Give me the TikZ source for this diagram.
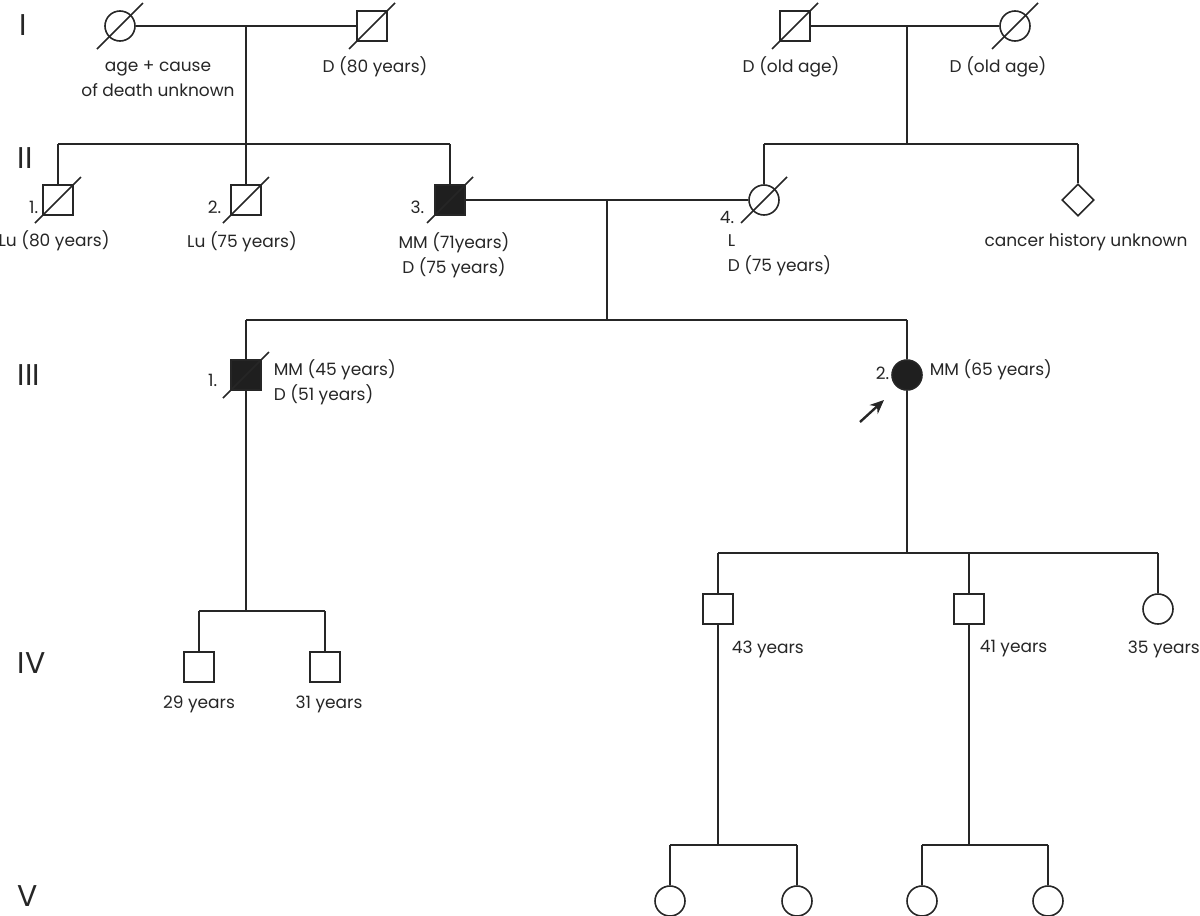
\documentclass[tikz,border=0pt]{standalone}
\usepackage{fontspec}
\setmainfont{Poppins}
\usepackage{tikz}
\usetikzlibrary{positioning,shapes.geometric,arrows.meta}
\tikzset{
  male box/.style={
    draw,
    rectangle,
    minimum size=15pt,
    inner sep=0pt,
  },
  female disc/.style={
    draw,
    circle,
    minimum size=15pt,
    inner sep=0pt,
  },
  sex unknown/.style={
    draw,
    diamond,
    minimum size=16pt,
    inner sep=0pt,
  },
  affected/.style={
    fill=black!88,
  },
  annotation/.style={
    font=\fontsize{8.5}{12.5}\selectfont,
    inner sep=0pt,
  },
  generation/.style={
    font=\fontsize{15}{18}\selectfont,
    inner sep=0pt,
    anchor=west,
  },
  proband arrow/.style={
    -{Stealth[length=7pt,width=6pt]},
    line width=1.2pt,
  }
}
\newcommand{\deceased}[1]{\draw ([shift={(-23,23)}]#1.center) -- ([shift={(23,-23)}]#1.center);}

\begin{document}
\begin{tikzpicture}[x=0.5pt, y=-0.5pt, line width=0.8pt, color=black!85]
    \useasboundingbox (0,0) rectangle (1200,916);

    \node [generation] (g1) at (19,25) {I};
    \node [generation] (g2) at (17,158) {II};
    \node [generation] (g3) at (17,375) {III};
    \node [generation] (g4) at (17,663) {IV};
    \node [generation] (g5) at (17,896) {V};

    % generation I
    \node [female disc] (i1) at (120,26) {};
    \node [male box] (i2) at (372,26) {};
    \node [male box] (i3) at (795,26) {};
    \node [female disc] (i4) at (1015,26) {};
    \deceased{i1} \deceased{i2} \deceased{i3} \deceased{i4}
    \draw (i1) -- (i2);
    \draw (i3) -- (i4);

    \node [annotation, align=center] at (158,79) {age + cause\\of death unknown};
    \node [annotation] at (375,67) {D (80 years)};
    \node [annotation] at (791,67) {D (old age)};
    \node [annotation] at (998,67) {D (old age)};

    % generation II
    \coordinate (c1) at (246,26);
    \coordinate (s1) at (246,144);
    \coordinate (c2) at (907,26);
    \coordinate (s2) at (907,144);
    \node [male box] (ii1) at (58,200) {};
    \node [male box] (ii2) at (246,200) {};
    \node [male box, affected] (ii3) at (450,200) {};
    \node [female disc] (ii4) at (764,200) {};
    \node [sex unknown] (ii5) at (1078,200) {};
    \deceased{ii1} \deceased{ii2} \deceased{ii3} \deceased{ii4}
    \draw (c1) -- (s1);
    \draw (ii1 |- s1) -- (ii3 |- s1);
    \draw (ii1 |- s1) -- (ii1);
    \draw (ii2 |- s1) -- (ii2);
    \draw (ii3 |- s1) -- (ii3);
    \draw (c2) -- (s2);
    \draw (ii4 |- s2) -- (ii5 |- s2);
    \draw (ii4 |- s2) -- (ii4);
    \draw (ii5 |- s2) -- (ii5);
    \draw (ii3) -- (ii4);

    \node [annotation, anchor=east] at (39,207) {1.};
    \node [annotation, anchor=east] at (222,207) {2.};
    \node [annotation, anchor=east] at (425,207) {3.};
    \node [annotation, anchor=east] at (735,217) {4.};
    \node [annotation] at (54,241) {Lu (80 years)};
    \node [annotation] at (242,242) {Lu (75 years)};
    \node [annotation, align=center] at (454,255) {MM (71years)\\D (75 years)};
    \node [annotation, align=left, anchor=west] at (727,255) {L\\D (75 years)};
    \node [annotation] at (1086,242) {cancer history unknown};

    % generation III
    \coordinate (c3) at (607,200);
    \coordinate (s3) at (607,320);
    \node [male box, affected] (iii1) at (246,375) {};
    \node [female disc, affected] (iii2) at (907,375) {};
    \deceased{iii1}
    \draw (c3) -- (s3);
    \draw (iii1 |- s3) -- (iii2 |- s3);
    \draw (iii1 |- s3) -- (iii1);
    \draw (iii2 |- s3) -- (iii2);

    \node [annotation, anchor=east] at (218,380) {1.};
    \node [annotation, align=left, anchor=west] at (273,382) {MM (45 years)\\D (51 years)};
    \node [annotation, anchor=east] at (890,373) {2.};
    \node [annotation, anchor=west] at (929,370) {MM (65 years)};
    \coordinate (pa) at (860,422);
    \draw [proband arrow] (pa) -- ([shift={(-23,25)}]iii2.center);

    % generation IV
    \coordinate (s4) at (246,611);
    \coordinate (s5) at (907,553);
    \node [male box] (iv1) at (199,667) {};
    \node [male box] (iv2) at (325,667) {};
    \node [male box] (iv3) at (718,609) {};
    \node [male box] (iv4) at (969,609) {};
    \node [female disc] (iv5) at (1158,609) {};
    \draw (iii1) -- (s4);
    \draw (iv1 |- s4) -- (iv2 |- s4);
    \draw (iv1 |- s4) -- (iv1);
    \draw (iv2 |- s4) -- (iv2);
    \draw (iii2) -- (s5);
    \draw (iv3 |- s5) -- (iv5 |- s5);
    \draw (iv3 |- s5) -- (iv3);
    \draw (iv4 |- s5) -- (iv4);
    \draw (iv5 |- s5) -- (iv5);

    \node [annotation] at (199,704) {29 years};
    \node [annotation] at (329,704) {31 years};
    \node [annotation, anchor=west] at (731,649) {43 years};
    \node [annotation, anchor=west] at (979,649) {41 years};
    \node [annotation, anchor=west] at (1127,649) {35 years};

    % generation V
    \coordinate (s6) at (718,845);
    \coordinate (s7) at (969,845);
    \node [female disc] (v1) at (670,901) {};
    \node [female disc] (v2) at (797,901) {};
    \node [female disc] (v3) at (922,901) {};
    \node [female disc] (v4) at (1048,901) {};
    \draw (iv3) -- (s6);
    \draw (v1 |- s6) -- (v2 |- s6);
    \draw (v1 |- s6) -- (v1);
    \draw (v2 |- s6) -- (v2);
    \draw (iv4) -- (s7);
    \draw (v3 |- s7) -- (v4 |- s7);
    \draw (v3 |- s7) -- (v3);
    \draw (v4 |- s7) -- (v4);
\end{tikzpicture}
\end{document}
